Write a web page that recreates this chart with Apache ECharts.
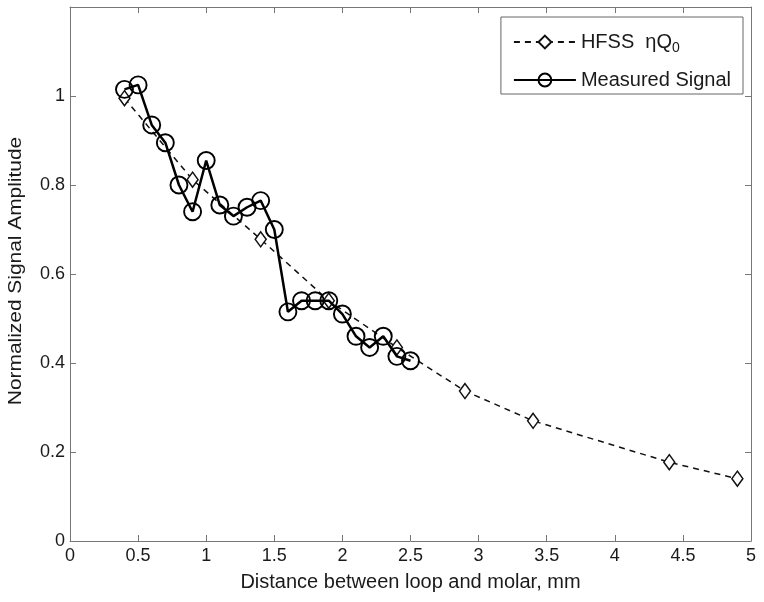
<!DOCTYPE html>
<html><head><meta charset="utf-8">
<script src="https://cdn.jsdelivr.net/npm/echarts@6/dist/echarts.min.js"></script>
<style>html,body{margin:0;padding:0;background:#fff}#c{width:764px;height:602px}</style>
</head><body><div id="c"></div>
<script>
const hfssX = [0.4, 0.9, 1.4, 1.9, 2.4, 2.9, 3.4, 4.4, 4.9];
const hfssY = [0.995, 0.812, 0.678, 0.54, 0.435, 0.337, 0.27, 0.177, 0.14];
const measX = [0.4,0.5,0.6,0.7,0.8,0.9,1.0,1.1,1.2,1.3,1.4,1.5,1.6,1.7,1.8,1.9,2.0,2.1,2.2,2.3,2.4,2.5];
const measY = [1.015,1.025,0.935,0.895,0.80,0.74,0.855,0.755,0.73,0.75,0.765,0.70,0.515,0.54,0.54,0.54,0.51,0.46,0.435,0.46,0.415,0.405];
const xTicks = [0,0.5,1,1.5,2,2.5,3,3.5,4,4.5,5];
const yTicks = [0,0.2,0.4,0.6,0.8,1];
const seriesNames = ['HFSS ηQ0', 'Measured Signal'];
const xTitle = 'Distance between loop and molar, mm';
const yTitle = 'Normalized Signal Amplitude';

const font = 'Liberation Sans, Arial, sans-serif';
const axisCol = '#777';
const txtCol = '#1a1a1a';
const chart = echarts.init(document.getElementById('c'), null, {renderer:'canvas'});
const common = {
  axisLine:{show:true, onZero:false, lineStyle:{color:axisCol, width:1}},
  axisTick:{show:true, inside:true, length:6, lineStyle:{color:axisCol}},
  splitLine:{show:false}
};
chart.setOption({
  animation:false,
  backgroundColor:'#fff',
  grid:{left:70, right:13, top:7, bottom:61, containLabel:false, outerBoundsMode:'none'},
  xAxis:[
    Object.assign({type:'value', min:0, max:5, interval:0.5, position:'bottom',
      name:xTitle, nameLocation:'middle', nameGap:31,
      nameTextStyle:{fontFamily:font, fontSize:20, color:txtCol},
      axisLabel:{fontFamily:font, fontSize:18, color:txtCol, margin:6,
        formatter:v=>xTicks.includes(+v.toFixed(2))?String(+v.toFixed(2)):''}}, common),
    Object.assign({type:'value', min:0, max:5, interval:0.5, position:'top', axisLabel:{show:false}}, common)
  ],
  yAxis:[
    Object.assign({type:'value', min:0, max:1.2, interval:0.2, position:'left',
      axisLabel:{fontFamily:font, fontSize:18, color:txtCol, margin:5,
        formatter:v=>{const r=+v.toFixed(2); return yTicks.includes(r)?String(r):'';}}}, common),
    Object.assign({type:'value', min:0, max:1.2, interval:0.2, position:'right', axisLabel:{show:false}}, common)
  ],
  graphic:[{
    type:'text', x:16, y:271, rotation:Math.PI/2, scaleX:1.1, scaleY:1,
    style:{text:yTitle, font:'19px ' + font, fill:txtCol, align:'center', verticalAlign:'middle'}
  }],
  legend:{
    orient:'vertical', right:21, top:17, itemWidth:62, itemHeight:16, itemGap:15,
    padding:[15,12,4,12],
    borderColor:'#666', borderWidth:1, backgroundColor:'#fff', borderRadius:0,
    textStyle:{fontFamily:font, fontSize:20, color:txtCol,
      rich:{sub:{fontFamily:font, fontSize:14, color:txtCol, padding:[12,0,0,0]}}},
    formatter:n=> n===seriesNames[0] ? 'HFSS  ηQ{sub|0}' : n,
    data:seriesNames
  },
  series:[
    {name:seriesNames[0], type:'line', data:hfssX.map((x,i)=>[x,hfssY[i]]),
      symbol:'diamond', symbolSize:[11,15],
      lineStyle:{color:'#111', width:1.5, type:[6,5]},
      itemStyle:{color:'#fff', borderColor:'#111', borderWidth:1.5}, z:2},
    {name:seriesNames[1], type:'line', data:measX.map((x,i)=>[x,measY[i]]),
      symbol:'circle', symbolSize:17,
      lineStyle:{color:'#000', width:2.5},
      itemStyle:{color:'rgba(0,0,0,0)', borderColor:'#000', borderWidth:1.9}, z:3}
  ]
});
</script></body></html>
